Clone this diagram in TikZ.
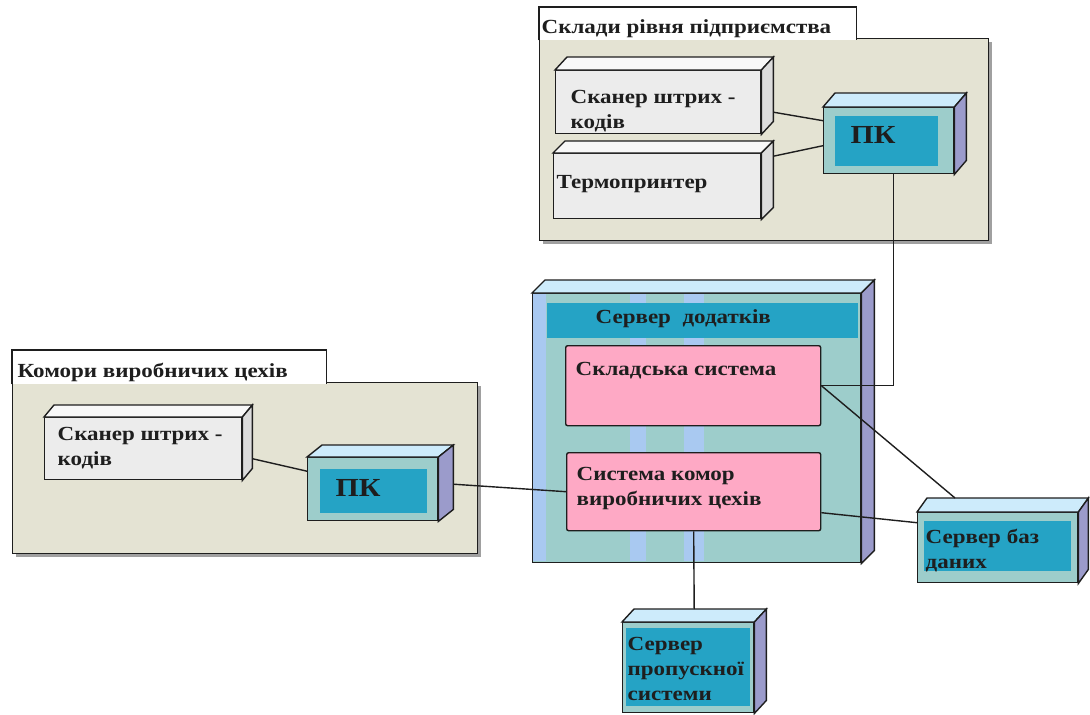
\documentclass[tikz,border=0pt]{standalone}
\usepackage{fontspec}
\setmainfont{Liberation Serif}[FakeStretch=1.15]
\usetikzlibrary{calc}

\definecolor{pkgfill}{HTML}{E4E3D3}
\definecolor{pkgshadow}{HTML}{A0A0A0}
\definecolor{boxfront}{HTML}{ECECEC}
\definecolor{boxtop}{HTML}{F8F8F8}
\definecolor{boxside}{HTML}{DCDCDC}
\definecolor{hostfront}{HTML}{9DCDCB}
\definecolor{hoststripe}{HTML}{A9C9F1}
\definecolor{hosttop}{HTML}{CDEBFB}
\definecolor{hostside}{HTML}{9B9BCB}
\definecolor{hostinner}{HTML}{25A3C5}
\definecolor{compfill}{HTML}{FEA9C5}
\definecolor{edge}{HTML}{1E1E1E}

% top and side face of a 3d box
\newcommand{\boxfaces}[4]{%
  \filldraw[fill=#3] (#1.north west) -- ++(#2) -- ($(#1.north east)+(#2)$) -- (#1.north east) -- cycle;
  \filldraw[fill=#4] (#1.north east) -- ++(#2) -- ($(#1.south east)+(#2)$) -- (#1.south east) -- cycle;
}

\tikzset{
  every node/.style={font=\fontsize{20}{25}\selectfont\bfseries},
  pkgbody/.style={draw, fill=pkgfill, anchor=north west, inner sep=0pt},
  pkgtab/.style={fill=white, anchor=north west, inner sep=0pt},
  devbox/.style={draw, fill=boxfront, anchor=north west, inner sep=0pt},
  hostbox/.style n args={4}{draw, fill=hostfront, anchor=north west, inner sep=0pt,
    path picture={\fill[hostinner] ($(path picture bounding box.north west)+(#1,#2)$)
      rectangle ($(path picture bounding box.south east)+(-#3,-#4)$);}},
  compbox/.style={draw, fill=compfill, rounded corners=2pt, anchor=north west, inner sep=0pt},
  boxtext/.style={anchor=base west, align=left, inner sep=0pt},
  bigtext/.style={font=\fontsize{26}{28}\selectfont\bfseries},
}

\begin{document}
\begin{tikzpicture}[x=1pt, y=-1pt, line width=1.4pt, color=edge]
\useasboundingbox (0,0) rectangle (1090,715);

% warehouses of the enterprise
\fill[pkgshadow] (543,42) rectangle (992,244);
\node[pkgbody, minimum width=449, minimum height=202] (storepkg) at (539,38) {};
\node[pkgtab, minimum width=316, minimum height=32,
  label={[boxtext, xshift=2pt, yshift=-26pt]north west:Склади рівня підприємства}] (storetab) at (539,7) {};
\draw (storetab.south west) -- (storetab.north west) -- (storetab.north east) -- (storetab.south east);

\node[devbox, minimum width=205, minimum height=63,
  label={[boxtext, xshift=15pt, yshift=-58pt]north west:{Сканер штрих -\\кодів}}] (scan1) at (555,70) {};
\boxfaces{scan1}{12,-13}{boxtop}{boxside}
\node[devbox, minimum width=207, minimum height=65,
  label={[boxtext, xshift=3pt, yshift=-35pt]north west:Термопринтер}] (printer) at (553,153) {};
\boxfaces{printer}{12,-12}{boxtop}{boxside}
\node[hostbox={11}{8}{16}{8}, minimum width=130, minimum height=66,
  label={[boxtext, bigtext, xshift=27pt, yshift=-36pt]north west:ПК}] (pc1) at (823,107) {};
\boxfaces{pc1}{12,-14}{hosttop}{hostside}

% workshop storerooms
\fill[pkgshadow] (16,386) rectangle (481,557);
\node[pkgbody, minimum width=465, minimum height=171] (shoppkg) at (12,382) {};
\node[pkgtab, minimum width=313, minimum height=33,
  label={[boxtext, xshift=5pt, yshift=-27pt]north west:Комори виробничих цехів}] (shoptab) at (12,350) {};
\draw (shoptab.south west) -- (shoptab.north west) -- (shoptab.north east) -- (shoptab.south east);

\node[devbox, minimum width=197, minimum height=62,
  label={[boxtext, xshift=13pt, yshift=-48pt]north west:{Сканер штрих -\\кодів}}] (scan2) at (44,417) {};
\boxfaces{scan2}{10,-12}{boxtop}{boxside}
\node[hostbox={12}{11}{11}{8}, minimum width=130, minimum height=63,
  label={[boxtext, bigtext, xshift=28pt, yshift=-39pt]north west:ПК}] (pc2) at (307,457) {};
\boxfaces{pc2}{15,-12}{hosttop}{hostside}

% application server
\node[draw, fill=hostfront, anchor=north west, inner sep=0pt, minimum width=328, minimum height=269] (appsrv) at (532,293) {};
\fill[hoststripe] (533,294) rectangle (546,561);
\fill[hoststripe] (630,294) rectangle (646,561);
\fill[hoststripe] (684,294) rectangle (704,561);
\boxfaces{appsrv}{13,-13}{hosttop}{hostside}
\node[fill=hostinner, anchor=north west, inner sep=0pt, minimum width=311, minimum height=35,
  label={[boxtext, xshift=49pt, yshift=-21pt]north west:Сервер\ \ додатків}] (apphead) at (546,302) {};
\node[compbox, minimum width=255, minimum height=80,
  label={[boxtext, xshift=10pt, yshift=-30pt]north west:Складська система}] (storesys) at (565,345) {};
\node[compbox, minimum width=254, minimum height=78,
  label={[boxtext, xshift=10pt, yshift=-53pt]north west:{Система комор\\виробничих цехів}}] (shopsys) at (566,452) {};

% other servers
\node[hostbox={6}{8}{7}{12}, minimum width=160, minimum height=70,
  label={[boxtext, xshift=8pt, yshift=-56pt]north west:{Сервер баз\\даних}}] (dbsrv) at (917,512) {};
\boxfaces{dbsrv}{10,-14}{hosttop}{hostside}
\node[hostbox={3}{5}{4}{7}, minimum width=131, minimum height=90,
  label={[boxtext, xshift=5pt, yshift=-78pt]north west:{Сервер\\пропускної\\системи}}] (passsrv) at (622,622) {};
\boxfaces{passsrv}{12,-13}{hosttop}{hostside}

% links
\draw ($(scan1.east)+(12,10)$) -- ($(pc1.west)+(0,-20)$);
\draw ($(printer.east)+(12,-30)$) -- ($(pc1.west)+(0,5)$);
\draw ($(pc1.south)+(5,0)$) |- (storesys.east);
\draw (storesys.east) -- ($(dbsrv.north west)+(38,-14)$);
\draw ($(scan2.east)+(10,10)$) -- ($(pc2.west)+(0,-18)$);
\draw ($(pc2.east)+(15,-5)$) -- (shopsys.west);
\draw ($(shopsys.east)+(0,21)$) -- ($(dbsrv.west)+(0,-25)$);
\draw (shopsys.south) -- ($(passsrv.north)+(6,-13)$);
\end{tikzpicture}
\end{document}
